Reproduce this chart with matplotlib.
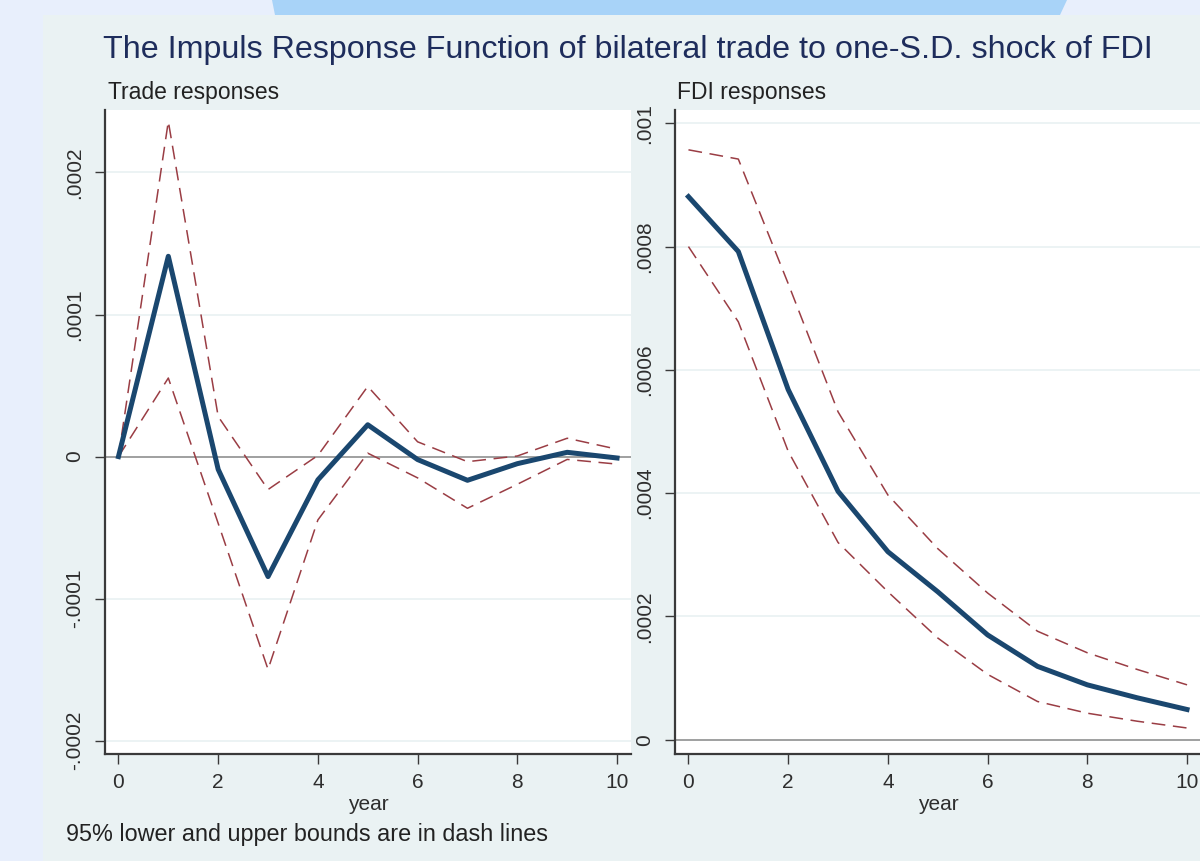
import matplotlib.pyplot as plt
from matplotlib.patches import Rectangle, Polygon
import numpy as np

# Impulse response data
year = list(range(0, 11))

trade_irf = [0, 0.000141, -0.0000090, -0.0000845, -0.0000164, 0.0000224,
             -0.0000021, -0.0000167, -0.0000050, 0.0000030, -0.0000010]
trade_hi = [0, 0.000236, 0.0000282, -0.0000232, 0.0000008, 0.0000494,
            0.0000104, -0.0000036, 0.0000004, 0.0000129, 0.0000052]
trade_lo = [0, 0.0000553, -0.0000470, -0.0001498, -0.0000446, 0.0000024,
            -0.0000150, -0.0000364, -0.0000195, -0.0000020, -0.0000053]

fdi_irf = [0.000881, 0.000792, 0.000568, 0.000403, 0.000305, 0.000240,
           0.000170, 0.000119, 0.000089, 0.000068, 0.000049]
fdi_hi = [0.000957, 0.000942, 0.000740, 0.000532, 0.000397, 0.000310,
          0.000238, 0.000176, 0.000141, 0.000114, 0.000089]
fdi_lo = [0.000800, 0.000678, 0.000468, 0.000320, 0.000240, 0.000165,
          0.000106, 0.000062, 0.000043, 0.000030, 0.000019]

trade_ticks = [-0.0002, -0.0001, 0, 0.0001, 0.0002]
trade_labels = ["-.0002", "-.0001", "0", ".0001", ".0002"]
fdi_ticks = [0, 0.0002, 0.0004, 0.0006, 0.0008, 0.001]
fdi_labels = ["0", ".0002", ".0004", ".0006", ".0008", ".001"]

W, H = 1200, 861
plt.rcParams['font.family'] = ['Liberation Sans', 'DejaVu Sans']

fig = plt.figure(figsize=(W / 100, H / 100), dpi=100)
fig.patch.set_facecolor('#E8EFFC')

# slide decoration and graph region background (kept behind the axes)
fig.patches.append(Polygon([(272 / W, 1), (275 / W, 1 - 15 / H), (1060 / W, 1 - 15 / H), (1067 / W, 1)],
                           closed=True, transform=fig.transFigure, facecolor='#A8D3F8',
                           edgecolor='none', zorder=-10))
fig.patches.append(Rectangle((43 / W, 0), 1 - 43 / W, 1 - 15 / H, transform=fig.transFigure,
                             facecolor='#EAF2F3', edgecolor='none', zorder=-10))

navy = '#1A476F'
maroon = '#9A3D44'
txt = '#2E2E2E'


def px_axes(x0, y0, x1, y1):
    return fig.add_axes([x0 / W, 1 - y1 / H, (x1 - x0) / W, (y1 - y0) / H])


def style(ax, ticks, labels, ylim):
    ax.set_facecolor('white')
    ax.set_xlim(-0.27, 10.28)
    ax.set_ylim(*ylim)
    for s in ['top', 'right']:
        ax.spines[s].set_visible(False)
    for s in ['left', 'bottom']:
        ax.spines[s].set_color('#3A3A3A')
        ax.spines[s].set_linewidth(1.6)
    ax.set_yticks(ticks)
    ax.set_yticklabels(labels, rotation=90, va='center')
    ax.set_xticks(range(0, 11, 2))
    ax.tick_params(axis='x', length=7, width=1.0, color='#3A3A3A', labelsize=15,
                   labelcolor=txt, pad=7)
    ax.tick_params(axis='y', length=7, width=1.0, color='#3A3A3A', labelsize=15,
                   labelcolor=txt, pad=8)
    ax.grid(axis='y', color='#EAF2F3', linewidth=1.3)
    ax.set_axisbelow(True)
    ax.axhline(0, color='#9A9A9A', linewidth=1.3, zorder=1)
    ax.set_xlabel('year', fontsize=15, color=txt, labelpad=2)


def draw(ax, irf, lo, hi):
    ax.plot(year, hi, color=maroon, linewidth=1.1, dashes=(9, 5), zorder=2)
    ax.plot(year, lo, color=maroon, linewidth=1.1, dashes=(9, 5), zorder=2)
    ax.plot(year, irf, color=navy, linewidth=3.6, zorder=3)


ax1 = px_axes(105, 110, 631, 754)
style(ax1, trade_ticks, trade_labels, (-0.0002094, 0.000244))
draw(ax1, trade_irf, trade_lo, trade_hi)

ax2 = px_axes(675, 110, 1201, 754)
style(ax2, fdi_ticks, fdi_labels, (-0.0000232, 0.0010216))
draw(ax2, fdi_irf, fdi_lo, fdi_hi)

fig.text(103 / W, 1 - 50 / H, "The Impuls Response Function of bilateral trade to one-S.D. shock of FDI",
         fontsize=23.2, color='#1E2D5C', va='center', ha='left')
fig.text(108 / W, 1 - 92 / H, "Trade responses", fontsize=16.5, color='#222222', va='center')
fig.text(677 / W, 1 - 92 / H, "FDI responses", fontsize=16.5, color='#222222', va='center')
fig.text(66 / W, 1 - 834 / H, "95% lower and upper bounds are in dash lines", fontsize=16.8,
         color='#222222', va='center')

fig.savefig('out.png', dpi=100, facecolor=fig.get_facecolor())
